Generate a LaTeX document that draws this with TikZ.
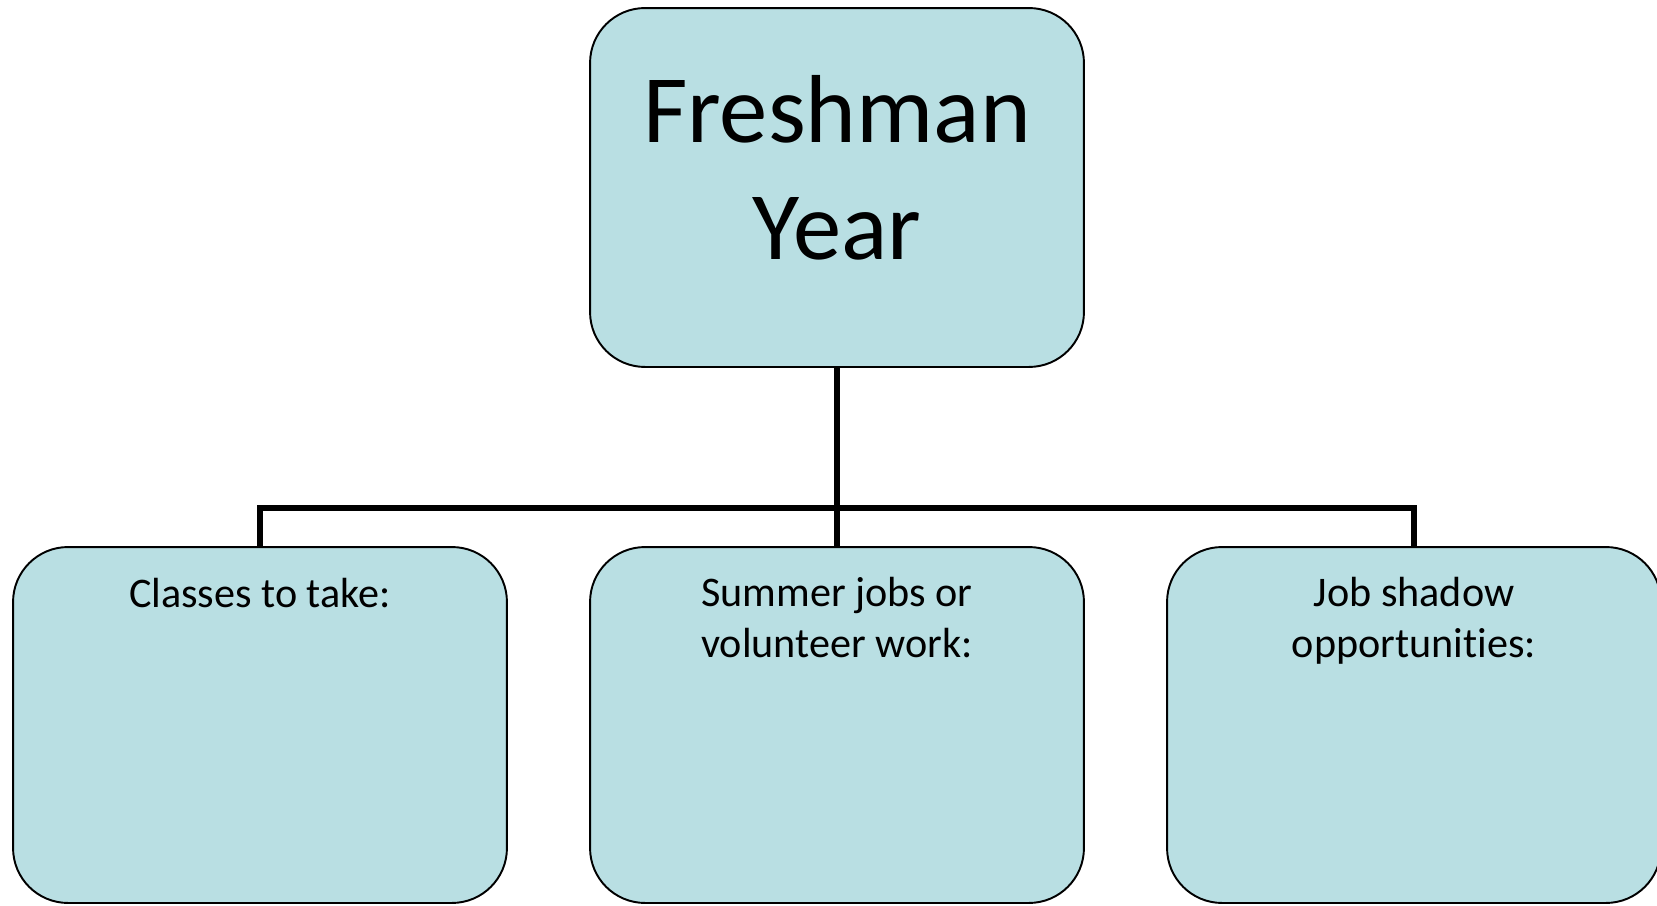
\documentclass[tikz,border=0pt]{standalone}
\usepackage{fontspec}
\setmainfont{Carlito}[Ligatures=NoCommon]
\usetikzlibrary{positioning}

\definecolor{boxfill}{HTML}{B9DFE3}

\begin{document}
\begin{tikzpicture}[x=0.02cm, y=-0.02cm,
    box/.style={draw, line width=1.1pt, fill=boxfill, rounded corners=1.1cm,
	minimum width=9.88cm, minimum height=7.12cm, inner sep=0pt},
    small/.style={font=\fontsize{24}{29}\selectfont, align=center, inner sep=0pt},
    conn/.style={line width=3.6pt}]
    \useasboundingbox (0, 0) rectangle (1657, 906);

    \coordinate (bar) at (837, 508);

    \node [box, minimum height=7.18cm] (year) at (837, 187.5) {};
    \node [box] (classes) at (260, 725) {};
    \node [box] (summer) at (837, 725) {};
    \node [box] (shadow) at (1414, 725) {};

    \draw [conn] (year.south) -- (bar) -- (summer.north);
    \draw [conn] (classes.north) |- (bar) -| (shadow.north);

    % base of a two-line node is its last line
    \node [small, font=\fontsize{55}{66.6}\selectfont,
	below=5.04cm of year.north, anchor=base] (yeartext) {Freshman\\Year};
    \node [small, below=1.22cm of classes.north, anchor=base] (classestext) {Classes to take:};
    \node [small, below=2.22cm of summer.north, anchor=base] (summertext) {Summer jobs or\\volunteer work:};
    \node [small, below=2.22cm of shadow.north, anchor=base] (shadowtext) {Job shadow\\opportunities:};
\end{tikzpicture}
\end{document}
